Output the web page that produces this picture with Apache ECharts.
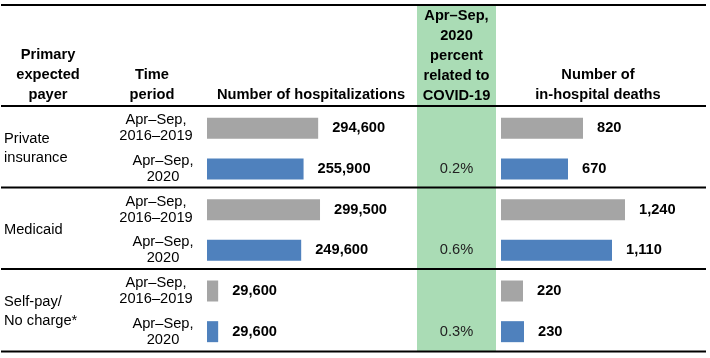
<!DOCTYPE html>
<html>
<head>
<meta charset="utf-8">
<script src="https://cdn.jsdelivr.net/npm/echarts@6/dist/echarts.min.js"></script>
<style>
html,body{margin:0;padding:0;background:#fff;}
#c{width:710px;height:358px;}
</style>
</head>
<body>
<div id="c"></div>
<script>
// ---- data ----
var payers = ['Private\ninsurance', 'Medicaid', 'Self-pay/\nNo charge*'];
var periods = ['Apr–Sep,\n2016–2019', 'Apr–Sep,\n2020'];
var hosp2016_19 = [294600, 299500, 29600];
var hosp2020 = [255900, 249600, 29600];
var pct2020 = ['0.2%', '0.6%', '0.3%'];
var deaths2016_19 = [820, 1240, 220];
var deaths2020 = [670, 1110, 230];

var FONT = "'Liberation Sans', Arial, sans-serif";
var FS = 14.67;

// interleave rows: payer x period
var rows = [], sA = [], sB = [], dA = [], dB = [], pctRows = [];
payers.forEach(function (p, i) {
  rows.push(i + '-0'); rows.push(i + '-1');
  sA.push(hosp2016_19[i]); sA.push('-');
  sB.push('-'); sB.push(hosp2020[i]);
  dA.push(deaths2016_19[i]); dA.push('-');
  dB.push('-'); dB.push(deaths2020[i]);
  pctRows.push(''); pctRows.push(pct2020[i]);
});

var chart = echarts.init(document.getElementById('c'), null, {renderer: 'canvas'});

var gridTop = 108, gridH = 244;
var lbl = {show: true, position: 'right', distance: 14, color: '#000', fontWeight: 'bold',
  fontFamily: FONT, fontSize: FS,
  formatter: function (p) { return Number(p.value).toLocaleString('en-US'); }};

function hline(y) {
  return {type: 'line', shape: {x1: 1, y1: y, x2: 706, y2: y}, style: {stroke: '#000', lineWidth: 2}, z: 10};
}
function htext(x, y, t) {
  return {type: 'text', x: x, y: y, z: 11, style: {text: t, fontFamily: FONT, fontSize: FS, fontWeight: 'bold',
    fill: '#000', align: 'center', verticalAlign: 'middle', lineHeight: 20}};
}

var option = {
  backgroundColor: '#fff',
  animation: false,
  grid: [
    {left: 207, top: gridTop, width: 200, height: gridH},
    {left: 501, top: gridTop, width: 200, height: gridH},
    {left: 417, top: gridTop, width: 79, height: gridH}
  ],
  xAxis: [
    {gridIndex: 0, type: 'value', min: 0, max: 530000, show: false},
    {gridIndex: 1, type: 'value', min: 0, max: 2000, show: false},
    {gridIndex: 2, type: 'value', min: 0, max: 1, show: false}
  ],
  yAxis: [
    {gridIndex: 0, type: 'category', data: rows, inverse: true,
      axisLine: {show: false}, axisTick: {show: false}, splitLine: {show: false},
      axisLabel: {margin: 13, align: 'right',
        formatter: function (v, i) {
          var k = i % 2 === 0 ? 'a' : 'b';
          return periods[i % 2].split('\n').map(function (s) { return '{' + k + '|' + s + '}'; }).join('\n');
        },
        rich: {
          a: {width: 76, align: 'center', fontFamily: FONT, fontSize: FS, color: '#000', lineHeight: 16},
          b: {width: 62, align: 'center', fontFamily: FONT, fontSize: FS, color: '#000', lineHeight: 16}
        }}},
    {gridIndex: 0, type: 'category', data: payers, inverse: true, position: 'left',
      axisLine: {show: false}, axisTick: {show: false}, splitLine: {show: false},
      axisLabel: {margin: 203, align: 'left', fontFamily: FONT, fontSize: FS, color: '#000', lineHeight: 19}},
    {gridIndex: 1, type: 'category', data: rows, inverse: true, show: false},
    {gridIndex: 2, type: 'category', data: rows, inverse: true,
      axisLine: {show: false}, axisTick: {show: false}, splitLine: {show: false},
      axisLabel: {margin: -39.5, align: 'center', fontFamily: FONT, fontSize: FS, color: '#222',
        formatter: function (v, i) { return pctRows[i]; }}}
  ],
  series: [
    {type: 'bar', xAxisIndex: 0, yAxisIndex: 0, data: sA, barWidth: 21, barGap: '-100%',
      itemStyle: {color: '#a5a5a5'}, label: lbl},
    {type: 'bar', xAxisIndex: 0, yAxisIndex: 0, data: sB, barWidth: 21, barGap: '-100%',
      itemStyle: {color: '#4f81bd'}, label: lbl},
    {type: 'bar', xAxisIndex: 1, yAxisIndex: 2, data: dA, barWidth: 21, barGap: '-100%',
      itemStyle: {color: '#a5a5a5'}, label: lbl},
    {type: 'bar', xAxisIndex: 1, yAxisIndex: 2, data: dB, barWidth: 21, barGap: '-100%',
      itemStyle: {color: '#4f81bd'}, label: lbl}
  ],
  graphic: [
    {type: 'rect', shape: {x: 417, y: 6, width: 79, height: 345}, style: {fill: '#aadcb5'}, z: -10, silent: true},
    hline(5), hline(106), hline(187.5), hline(269), hline(351.5),
    htext(48, 75, 'Primary\nexpected\npayer'),
    htext(152, 85, 'Time\nperiod'),
    htext(311, 95, 'Number of hospitalizations'),
    htext(456.5, 55.5, 'Apr–Sep,\n2020\npercent\nrelated to\nCOVID-19'),
    htext(598, 85, 'Number of\nin-hospital deaths')
  ]
};
chart.setOption(option);
</script>
</body>
</html>
